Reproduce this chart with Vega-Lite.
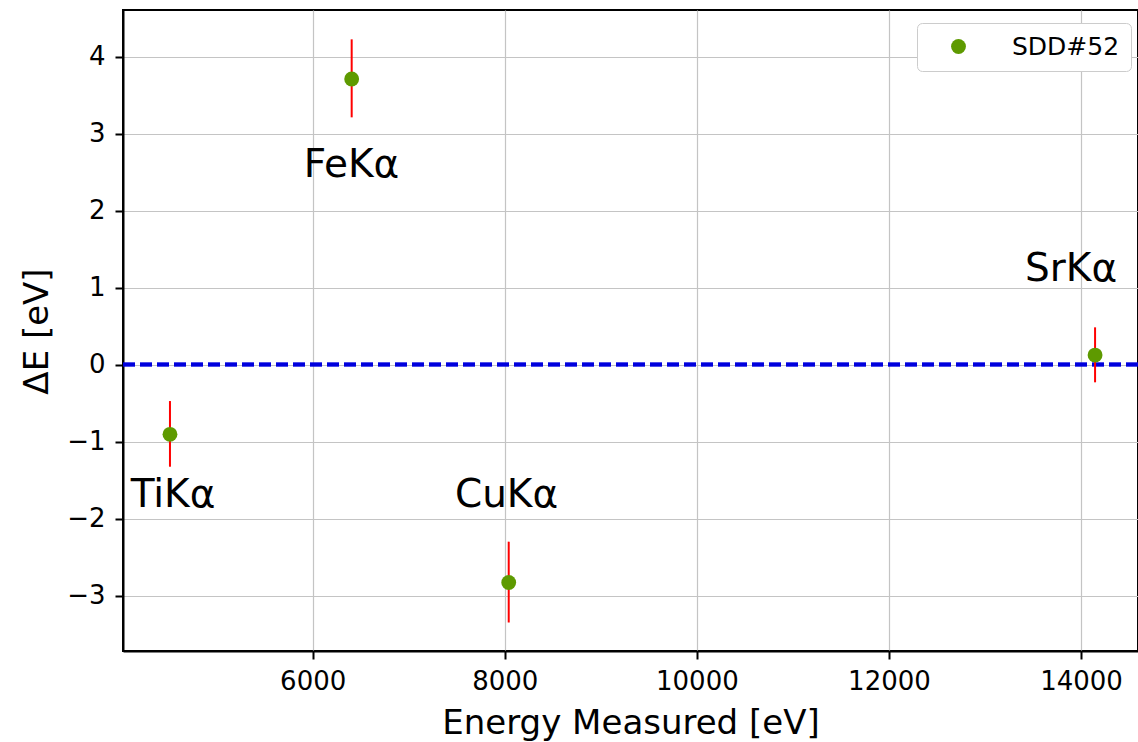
{
  "$schema": "https://vega.github.io/schema/vega-lite/v6.json",
  "width": 1015,
  "height": 641,
  "autosize": {"type": "none"},
  "padding": {"left": 123, "top": 10, "right": 0, "bottom": 91},
  "background": "white",
  "config": {
    "font": "DejaVu Sans",
    "view": {"stroke": "black", "strokeWidth": 2},
    "axis": {
      "domainColor": "black",
      "domainWidth": 2,
      "tickColor": "black",
      "tickWidth": 2,
      "tickSize": 8,
      "grid": true,
      "gridColor": "#c4c4c4",
      "gridWidth": 1.2,
      "labelFont": "DejaVu Sans",
      "labelFontSize": 26,
      "labelColor": "black",
      "titleFont": "DejaVu Sans",
      "titleFontSize": 34,
      "titleFontWeight": "normal",
      "titleColor": "black"
    }
  },
  "datasets": {
    "pts": [
      {"element": "TiKα", "energy": 4514, "dE": -0.906, "lo": -1.327, "hi": -0.474, "lx": 4546, "ly": -1.85, "series": "SDD#52"},
      {"element": "FeKα", "energy": 6406, "dE": 3.708, "lo": 3.21, "hi": 4.223, "lx": 6404, "ly": 2.44, "series": "SDD#52"},
      {"element": "CuKα", "energy": 8041, "dE": -2.83, "lo": -3.35, "hi": -2.30, "lx": 8018, "ly": -1.85, "series": "SDD#52"},
      {"element": "SrKα", "energy": 14146, "dE": 0.123, "lo": -0.231, "hi": 0.483, "lx": 13896, "ly": 1.09, "series": "SDD#52"}
    ]
  },
  "data": {"name": "pts"},
  "layer": [
    {
      "mark": {"type": "rule", "color": "#0000dd", "strokeWidth": 3.5, "strokeDash": [12, 5]},
      "encoding": {
        "y": {"datum": 0, "type": "quantitative", "scale": {"domain": [-3.72, 4.604], "nice": false, "zero": false},
              "axis": {"values": [-3, -2, -1, 0, 1, 2, 3, 4], "format": "d", "grid": true, "title": "ΔE [eV]", "labelPadding": 10,
                       "titleAngle": 270, "titleX": -76, "titleY": 321, "titleAlign": "center", "titleBaseline": "alphabetic"}}
      }
    },
    {
      "mark": {"type": "rule", "color": "#ff0000", "strokeWidth": 2},
      "encoding": {
        "x": {"field": "energy", "type": "quantitative", "scale": {"domain": [4025, 14593], "nice": false, "zero": false},
              "axis": {"values": [6000, 8000, 10000, 12000, 14000], "title": "Energy Measured [eV]", "format": "d", "grid": true,
                       "labelPadding": 9, "titleY": 82, "titleBaseline": "alphabetic"}},
        "y": {"field": "lo", "type": "quantitative", "title": "ΔE [eV]"},
        "y2": {"field": "hi"}
      }
    },
    {
      "mark": {"type": "point", "filled": true, "opacity": 1, "shape": "circle", "size": 220},
      "encoding": {
        "x": {"field": "energy", "type": "quantitative", "title": "Energy Measured [eV]"},
        "y": {"field": "dE", "type": "quantitative", "title": "ΔE [eV]"},
        "color": {
          "field": "series", "type": "nominal",
          "scale": {"domain": ["SDD#52"], "range": ["#5e9a00"]},
          "legend": {
            "title": null,
            "orient": "none",
            "legendX": 794,
            "legendY": 13,
            "padding": 11,
            "strokeColor": "#cccccc",
            "fillColor": "white",
            "cornerRadius": 5,
            "labelFontSize": 25,
            "labelFont": "DejaVu Sans",
            "labelColor": "black",
            "symbolType": "circle",
            "symbolSize": 220,
            "symbolStrokeWidth": 0,
            "symbolOffset": 18,
            "labelOffset": 41
          }
        }
      }
    },
    {
      "mark": {"type": "text", "fontSize": 39, "font": "DejaVu Sans", "align": "center", "baseline": "alphabetic", "color": "black"},
      "encoding": {
        "x": {"field": "lx", "type": "quantitative", "title": "Energy Measured [eV]"},
        "y": {"field": "ly", "type": "quantitative", "title": "ΔE [eV]"},
        "text": {"field": "element"}
      }
    }
  ]
}
